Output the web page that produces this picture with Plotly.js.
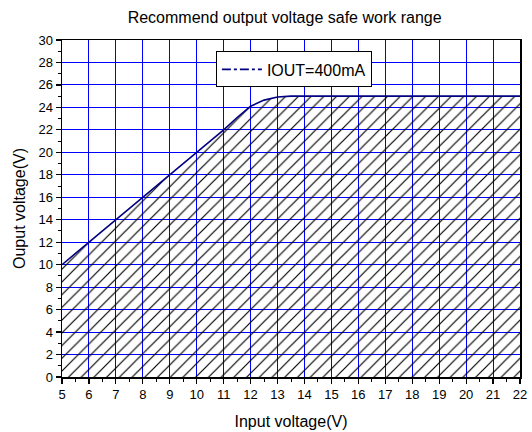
<!DOCTYPE html>
<html>
<head>
<meta charset="utf-8">
<script src="https://cdn.plot.ly/plotly-3.0.1.min.js"></script>
<style>html,body{margin:0;padding:0;background:#fff;}#chart{width:532px;height:432px;}</style>
</head>
<body>
<div id="chart"></div>
<script>
var inputVoltage  = [5, 6, 7, 8, 9, 10, 10.5, 11, 11.5, 12, 12.5, 13, 13.5, 14, 15, 16, 17, 18, 19, 20, 21, 22];
var outputVoltage = [10, 12, 14, 16, 18, 20, 21, 22, 23.1, 24.1, 24.65, 24.93, 25, 25, 25, 25, 25, 25, 25, 25, 25, 25];
var seriesName = 'IOUT=400mA';
var xTicks = [5, 6, 7, 8, 9, 10, 11, 12, 13, 14, 15, 16, 17, 18, 19, 20, 21, 22];
var yTicks = [0, 2, 4, 6, 8, 10, 12, 14, 16, 18, 20, 22, 24, 26, 28, 30];

var font = 'Liberation Sans, Arial, sans-serif';
var lineColor = '#000080';

var traces = [
  {
    x: inputVoltage, y: outputVoltage, type: 'scatter', mode: 'lines',
    fill: 'tozeroy', fillcolor: 'rgba(0,0,0,0)',
    fillpattern: {shape: '/', fgcolor: '#000000', bgcolor: 'rgba(0,0,0,0)', size: 9, solidity: 0.13},
    line: {color: lineColor, width: 1.6}, showlegend: false, hoverinfo: 'skip'
  },
  {
    x: [null], y: [null], type: 'scatter', mode: 'lines', name: seriesName,
    line: {color: lineColor, width: 1.6, dash: 'dashdot'}
  }
];

var layout = {
  width: 532, height: 432,
  margin: {l: 62, r: 12, t: 40, b: 55},
  paper_bgcolor: '#ffffff', plot_bgcolor: '#ffffff',
  font: {family: font, color: '#000', size: 13},
  title: {text: 'Recommend output voltage safe work range', font: {family: font, size: 16, color: '#000'},
          x: 0.535, xanchor: 'center', y: 0.96, yanchor: 'middle'},
  showlegend: true,
  legend: {x: 0.336, y: 0.966, xanchor: 'left', yanchor: 'top', bgcolor: '#fff',
           bordercolor: '#000', borderwidth: 1, font: {family: font, size: 16},
           itemwidth: 40, tracegroupgap: 0},
  xaxis: {
    range: [5, 22], tickvals: xTicks, ticktext: xTicks.map(String),
    showgrid: true, gridcolor: '#0000ff', gridwidth: 1, zeroline: false,
    showline: true, linecolor: '#000', linewidth: 1.5, mirror: true,
    ticks: 'outside', ticklen: 5, tickwidth: 1.2, tickcolor: '#000',
    tickfont: {family: font, size: 13},
    minor: {dtick: 0.5, tick0: 5, ticks: 'outside', ticklen: 3, tickwidth: 1, tickcolor: '#000', showgrid: false},
    title: {text: 'Input voltage(V)', font: {family: font, size: 16}, standoff: 14},
    fixedrange: true
  },
  yaxis: {
    range: [0, 30], tickvals: yTicks, ticktext: yTicks.map(String),
    showgrid: true, gridcolor: '#0000ff', gridwidth: 1, zeroline: false,
    showline: true, linecolor: '#000', linewidth: 1.5, mirror: true,
    ticks: 'outside', ticklen: 5, tickwidth: 1.2, tickcolor: '#000',
    tickfont: {family: font, size: 13},
    minor: {dtick: 1, tick0: 0, ticks: 'outside', ticklen: 3, tickwidth: 1, tickcolor: '#000', showgrid: false},
    title: {text: 'Ouput voltage(V)', font: {family: font, size: 16}, standoff: 9},
    fixedrange: true
  }
};

Plotly.newPlot('chart', traces, layout, {displayModeBar: false, staticPlot: true});
</script>
</body>
</html>
